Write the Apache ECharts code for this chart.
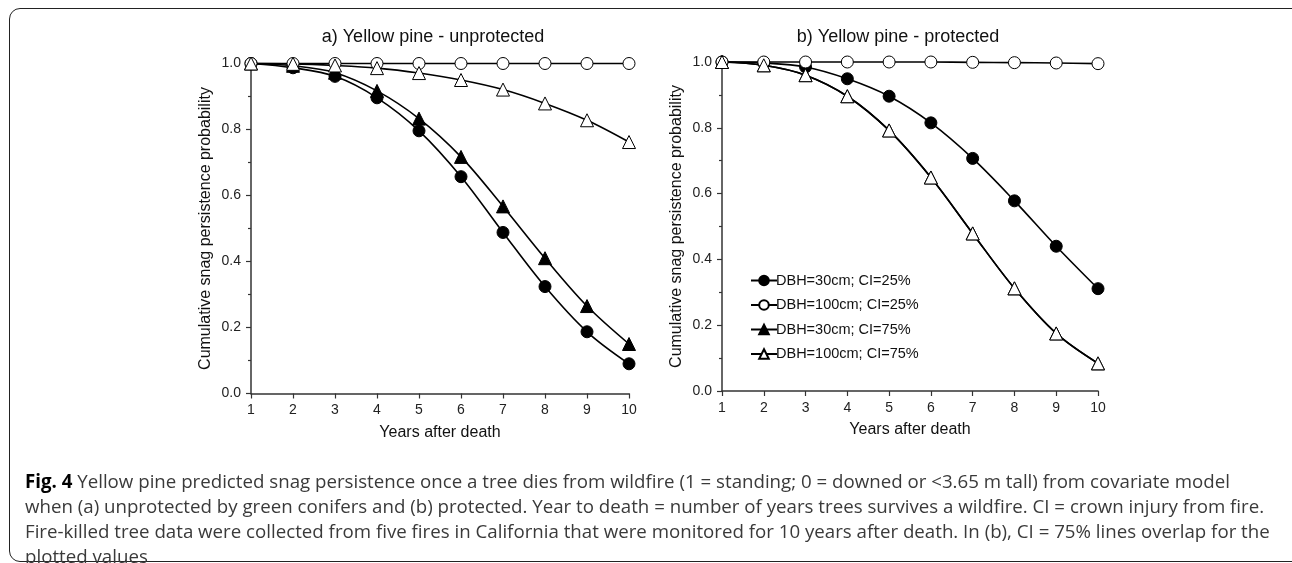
<!DOCTYPE html>
<html>
<head>
<meta charset="utf-8">
<script src="https://cdn.jsdelivr.net/npm/echarts@6/dist/echarts.min.js"></script>
<style>
  html, body { margin: 0; padding: 0; background: #fff; }
  .wrap { position: relative; width: 1292px; height: 563px; overflow: hidden; }
  .frame {
    position: absolute; left: 9px; top: 8px; width: 1300px; height: 554px;
    border: 1.5px solid #222; border-radius: 11px; box-sizing: border-box;
  }
  #chart { position: absolute; left: 0; top: 0; width: 1292px; height: 563px; }
  .caption {
    position: absolute; left: 25px; top: 468px; width: 1262px;
    font-family: "Open Sans", "Noto Sans", sans-serif; font-size: 18.7px;
    line-height: 25px; color: #3a3a3a; white-space: nowrap;
  }
  .caption b { color: #000; font-weight: 700; }
</style>
</head>
<body>
<div class="wrap">
  <div class="frame"></div>
  <div id="chart"></div>
  <div class="caption">
    <b>Fig. 4</b> Yellow pine predicted snag persistence once a tree dies from wildfire (1 = standing; 0 = downed or &lt;3.65 m tall) from covariate model<br>
    when (a) unprotected by green conifers and (b) protected. Year to death = number of years trees survives a wildfire. CI = crown injury from fire.<br>
    Fire-killed tree data were collected from five fires in California that were monitored for 10 years after death. In (b), CI = 75% lines overlap for the<br>
    plotted values
  </div>
</div>
<script>
var years = [1, 2, 3, 4, 5, 6, 7, 8, 9, 10];
var names = ['DBH=30cm; CI=25%', 'DBH=100cm; CI=25%', 'DBH=30cm; CI=75%', 'DBH=100cm; CI=75%'];
var titles = ['a) Yellow pine - unprotected', 'b) Yellow pine - protected'];

// a) unprotected
var unprot30_25 = [1.0, 0.987, 0.961, 0.896, 0.796, 0.657, 0.488, 0.324, 0.187, 0.09];
var unprot100_25 = [1.0, 1.0, 1.0, 1.0, 1.0, 1.0, 1.0, 1.0, 1.0, 1.0];
var unprot30_75 = [1.0, 0.993, 0.972, 0.917, 0.833, 0.717, 0.567, 0.41, 0.265, 0.15];
var unprot100_75 = [1.0, 0.999, 0.994, 0.986, 0.971, 0.95, 0.921, 0.879, 0.828, 0.762];

// b) protected (CI=75% lines overlap)
var prot30_25 = [1.0, 0.997, 0.985, 0.949, 0.896, 0.815, 0.707, 0.578, 0.44, 0.311];
var prot100_25 = [1.0, 1.0, 1.0, 1.0, 1.0, 1.0, 0.999, 0.998, 0.997, 0.995];
var prot30_75 = [1.0, 0.99, 0.96, 0.896, 0.792, 0.649, 0.479, 0.312, 0.175, 0.084];
var prot100_75 = [1.0, 0.99, 0.96, 0.896, 0.792, 0.649, 0.479, 0.312, 0.175, 0.084];

function pairs (vals) {
  return years.map(function (x, i) { return [x, vals[i]]; });
}

var marks = {};
marks[names[0]] = { symbol: 'circle', size: 12, fill: '#000' };
marks[names[1]] = { symbol: 'circle', size: 12, fill: '#fff' };
marks[names[2]] = { symbol: 'triangle', size: 13, fill: '#000' };
marks[names[3]] = { symbol: 'triangle', size: 13, fill: '#fff' };

function line (name, vals, idx) {
  var m = marks[name];
  return {
    type: 'line',
    name: name,
    xAxisIndex: idx,
    yAxisIndex: idx,
    data: pairs(vals),
    smooth: 0.35,
    clip: false,
    symbol: m.symbol,
    symbolSize: m.size,
    lineStyle: { color: '#000', width: 1.6 },
    itemStyle: { color: m.fill, borderColor: '#000', borderWidth: 1 },
    emphasis: { disabled: true },
    z: 2
  };
}

var fam = 'Liberation Sans, Arial, sans-serif';
var tickFont = { fontFamily: fam, fontSize: 14, color: '#222' };

function xAxis (idx) {
  return {
    type: 'value', gridIndex: idx, min: 1, max: 10, interval: 1,
    name: 'Years after death', nameLocation: 'middle', nameGap: 31,
    nameTextStyle: { fontFamily: fam, fontSize: 16, color: '#111' },
    axisLine: { show: true, lineStyle: { color: '#333', width: 1.5 } },
    axisTick: { show: true, length: 5, lineStyle: { color: '#333', width: 1.2 } },
    axisLabel: Object.assign({ margin: 10 }, tickFont),
    splitLine: { show: false }
  };
}

function yAxis (idx) {
  return {
    type: 'value', gridIndex: idx, min: 0, max: 1, interval: 0.2,
    name: 'Cumulative snag persistence probability', nameLocation: 'middle', nameGap: 37,
    nameTextStyle: { fontFamily: fam, fontSize: 16, color: '#111' },
    axisLine: { show: true, lineStyle: { color: '#333', width: 1.5 } },
    axisTick: { show: true, length: 5, lineStyle: { color: '#333', width: 1.2 } },
    minorTick: { show: true, splitNumber: 2, length: 3, lineStyle: { color: '#333', width: 1.2 } },
    axisLabel: Object.assign({ margin: 10, formatter: function (v) { return v.toFixed(1); } }, tickFont),
    splitLine: { show: false }
  };
}

var chart = echarts.init(document.getElementById('chart'));
chart.setOption({
  animation: false,
  backgroundColor: 'transparent',
  title: [
    { text: titles[0], left: 428, top: 23, textAlign: 'center',
      textStyle: { fontFamily: fam, fontSize: 18, fontWeight: 'normal', color: '#111' } },
    { text: titles[1], left: 893, top: 23, textAlign: 'center',
      textStyle: { fontFamily: fam, fontSize: 18, fontWeight: 'normal', color: '#111' } }
  ],
  legend: {
    data: names,
    orient: 'vertical',
    left: 745, top: 268,
    itemWidth: 26, itemHeight: 12, itemGap: 9.5,
    selectedMode: false,
    textStyle: { fontFamily: fam, fontSize: 14.5, color: '#111', padding: [0, 0, 0, -6] }
  },
  grid: [
    { left: 251, right: 663, top: 63.5, bottom: 169.5 },
    { left: 722, right: 194, top: 62, bottom: 172 }
  ],
  xAxis: [xAxis(0), xAxis(1)],
  yAxis: [yAxis(0), yAxis(1)],
  series: [
    line(names[0], unprot30_25, 0),
    line(names[2], unprot30_75, 0),
    line(names[1], unprot100_25, 0),
    line(names[3], unprot100_75, 0),
    line(names[2], prot30_75, 1),
    line(names[0], prot30_25, 1),
    line(names[1], prot100_25, 1),
    line(names[3], prot100_75, 1)
  ]
});
</script>
</body>
</html>
